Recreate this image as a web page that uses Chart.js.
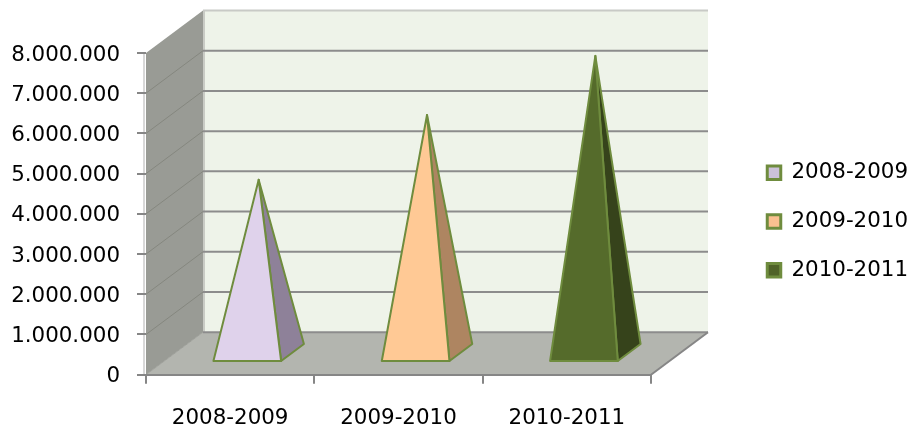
<!DOCTYPE html>
<html>
<head>
<meta charset="utf-8">
<title>Pirámides 2008-2011</title>
<script src="https://cdn.jsdelivr.net/npm/chart.js@4"></script>
<style>
    body { margin: 0; background: #fff; }
    canvas { display: block; }
</style>
</head>
<body>
<canvas id="chart" width="910" height="432"></canvas>
<script>
// Datos
const categories = ['2008-2009', '2009-2010', '2010-2011'];
const seriesNames = ['2008-2009', '2009-2010', '2010-2011'];
const values2008 = [4320000, null, null];
const values2009 = [null, 5930000, null];
const values2010 = [null, null, 7400000];
const yTickLabels = ['0', '1.000.000', '2.000.000', '3.000.000', '4.000.000', '5.000.000', '6.000.000', '7.000.000', '8.000.000'];

// Colores de cada serie
const legendColors = ['#CCC1DA', '#FAC090', '#4F6228'];
const frontColors = ['#DFD2EB', '#FFC995', '#556B2B'];
const sideColors = ['#8E8199', '#AE8561', '#36431B'];
const edgeColor = '#6F8C3E';

const DEPTH_X = 57;
const DEPTH_Y = 42.5;
const FONT = { family: '"DejaVu Sans"', size: 21.4 };

// Pirámide en vez de barra, con la posición que calcula el propio BarController
class PyramidController extends Chart.BarController {
    draw() {
        const ctx = this.chart.ctx;
        const serie = this.index;
        const data = this.getDataset().data;
        this.getMeta().data.forEach((bar, i) => {
            if (data[i] === null) return;
            const left = bar.x - bar.width / 2;
            const right = bar.x + bar.width / 2;
            const frontX = DEPTH_X * 0.3, frontY = DEPTH_Y * 0.3;
            const backX = DEPTH_X * 0.7, backY = DEPTH_Y * 0.7;
            const apexX = bar.x + DEPTH_X * 0.5;
            const apexY = bar.y - DEPTH_Y * 0.5;

            ctx.save();
            ctx.lineWidth = 2;
            ctx.lineJoin = 'round';
            ctx.strokeStyle = edgeColor;

            ctx.fillStyle = sideColors[serie];
            ctx.beginPath();
            ctx.moveTo(right + frontX, bar.base - frontY);
            ctx.lineTo(right + backX, bar.base - backY);
            ctx.lineTo(apexX, apexY);
            ctx.closePath();
            ctx.fill();
            ctx.stroke();

            ctx.fillStyle = frontColors[serie];
            ctx.beginPath();
            ctx.moveTo(left + frontX, bar.base - frontY);
            ctx.lineTo(right + frontX, bar.base - frontY);
            ctx.lineTo(apexX, apexY);
            ctx.closePath();
            ctx.fill();
            ctx.stroke();
            ctx.restore();
        });
    }
}
PyramidController.id = 'pyramid';
Chart.register(PyramidController);

// Paredes y suelo de la caja 3D
const box3d = {
    id: 'box3d',
    afterLayout(chart) {
        // La leyenda va a la derecha, separada del área del gráfico
        const legend = chart.legend;
        const pad = legend.options.labels.padding;
        const h = legend.bottom - legend.top;
        legend.left = 767.25 - pad;
        legend.right = chart.width;
        legend.width = legend.right - legend.left;
        legend.top = 162 - pad;
        legend.bottom = legend.top + h;
    },
    beforeDraw(chart) {
        const ctx = chart.ctx;
        const { left, right, top, bottom } = chart.chartArea;
        const y = chart.scales.y;
        const polygon = (points, color) => {
            ctx.fillStyle = color;
            ctx.beginPath();
            points.forEach(p => ctx.lineTo(p[0], p[1]));
            ctx.closePath();
            ctx.fill();
        };
        const line = (x1, y1, x2, y2, color, width) => {
            ctx.strokeStyle = color;
            ctx.lineWidth = width;
            ctx.beginPath();
            ctx.moveTo(x1, y1);
            ctx.lineTo(x2, y2);
            ctx.stroke();
        };

        ctx.save();
        polygon([[left + DEPTH_X, top - DEPTH_Y], [right + DEPTH_X, top - DEPTH_Y], [right + DEPTH_X, bottom - DEPTH_Y], [left + DEPTH_X, bottom - DEPTH_Y]], '#EEF3E9');
        polygon([[left, top], [left + DEPTH_X, top - DEPTH_Y], [left + DEPTH_X, bottom - DEPTH_Y], [left, bottom]], '#999B95');
        polygon([[left, bottom], [left + DEPTH_X, bottom - DEPTH_Y], [right + DEPTH_X, bottom - DEPTH_Y], [right, bottom]], '#B3B5AF');

        line(left - 2, top, left - 2, bottom, '#D8D8D8', 2);
        line(left + DEPTH_X + 1, top - DEPTH_Y, left + DEPTH_X + 1, bottom - DEPTH_Y, '#C9CBC5', 2);

        y.ticks.forEach(tick => {
            const py = y.getPixelForValue(tick.value);
            const isTop = tick.value === y.max;
            if (tick.value > 0 && !isTop) line(left, py, left + DEPTH_X, py - DEPTH_Y, '#85877F', 1);
            if (tick.value === 0) line(left, py, left + DEPTH_X, py - DEPTH_Y, '#9EA09A', 1);
            line(left + DEPTH_X, py - DEPTH_Y, right + DEPTH_X, py - DEPTH_Y, isTop ? '#C8CAC6' : '#8C8C8C', 2);
        });
        line(right, bottom, right + DEPTH_X, bottom - DEPTH_Y, '#868686', 2);
        ctx.restore();
    }
};

const series = [values2008, values2009, values2010].map((values, i) => ({
    label: seriesNames[i],
    data: values,
    backgroundColor: legendColors[i],
    borderColor: edgeColor,
    borderWidth: 3,
    categoryPercentage: 0.402,
    barPercentage: 1
}));

new Chart(document.getElementById('chart'), {
    type: 'pyramid',
    data: { labels: categories, datasets: series },
    plugins: [box3d],
    options: {
        responsive: false,
        animation: false,
        layout: { padding: { top: 53, right: 109 } },
        plugins: {
            tooltip: { enabled: false },
            legend: {
                position: 'right',
                align: 'start',
                maxWidth: 150,
                labels: {
                    boxWidth: 13.5,
                    boxHeight: 13.5,
                    padding: 27.4,
                    color: '#000',
                    font: FONT
                }
            }
        },
        scales: {
            x: {
                stacked: true,
                afterFit: scale => { scale.height = 57.3; },
                grid: { drawOnChartArea: false, color: '#868686', lineWidth: 2, tickLength: 9 },
                border: { color: '#868686', width: 2 },
                ticks: { color: '#000', font: FONT, padding: 22, maxRotation: 0 }
            },
            y: {
                stacked: true,
                min: 0,
                max: 8000000,
                afterFit: scale => { scale.width = 146; },
                grid: { drawOnChartArea: false, color: '#868686', lineWidth: 2, tickLength: 9 },
                border: { display: false },
                ticks: {
                    stepSize: 1000000,
                    autoSkip: false,
                    color: '#000',
                    font: FONT,
                    padding: 17,
                    labelOffset: 2,
                    callback: (value, index) => yTickLabels[index]
                }
            }
        }
    }
});
</script>
</body>
</html>
